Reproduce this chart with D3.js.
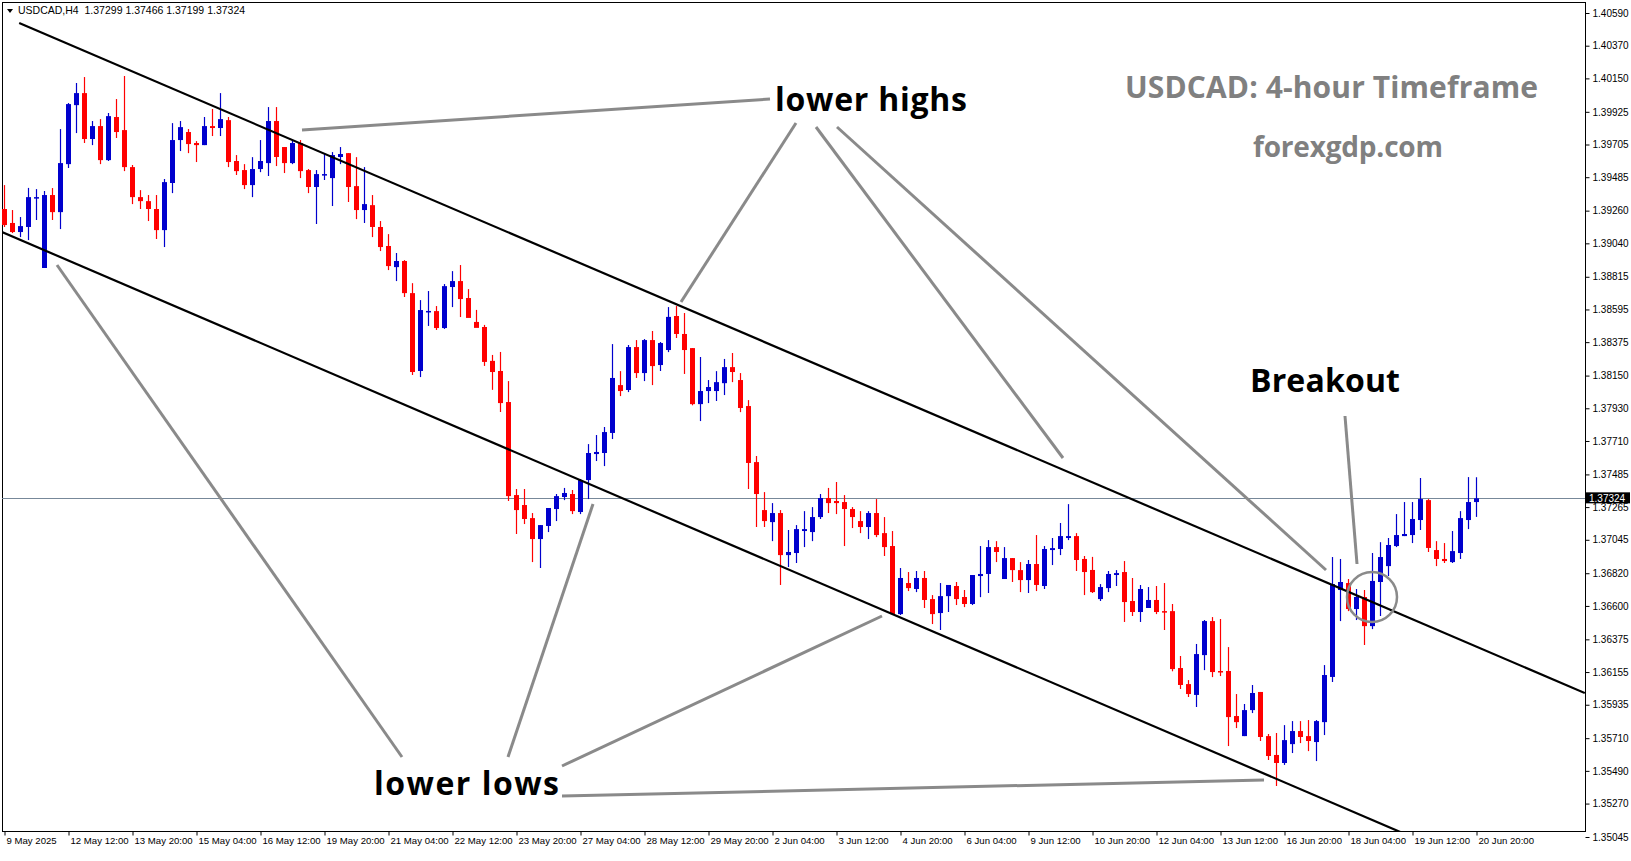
<!DOCTYPE html>
<html><head><meta charset="utf-8">
<script src="https://cdn.jsdelivr.net/npm/d3@7"></script>
<style>body{margin:0;background:#fff}svg{display:block}</style>
</head><body>
<svg id="c" width="1631" height="861"></svg>
<script>
const symbolHeader = "USDCAD,H4  1.37299 1.37466 1.37199 1.37324";
// [open, high, low, close] per H4 candle
const candles=[
[1.39271,1.39432,1.39150,1.39163],[1.39177,1.39264,1.39109,1.39116],[1.39116,1.39217,1.39082,1.39156],[1.39150,1.39413,1.39062,1.39351],
[1.39344,1.39405,1.39197,1.39351],[1.38874,1.39392,1.38874,1.39365],[1.39365,1.39412,1.39197,1.39250],[1.39250,1.39809,1.39136,1.39580],
[1.39573,1.39984,1.39547,1.39977],[1.39970,1.40119,1.39782,1.40051],[1.40051,1.40159,1.39715,1.39742],[1.39742,1.39863,1.39701,1.39829],
[1.39829,1.39876,1.39573,1.39600],[1.39600,1.39917,1.39594,1.39896],[1.39890,1.40011,1.39749,1.39789],[1.39802,1.40166,1.39526,1.39553],
[1.39553,1.39567,1.39304,1.39351],[1.39351,1.39398,1.39271,1.39324],[1.39324,1.39365,1.39190,1.39271],[1.39271,1.39365,1.39069,1.39129],
[1.39129,1.39473,1.39015,1.39452],[1.39446,1.39849,1.39378,1.39735],[1.39735,1.39863,1.39661,1.39822],[1.39789,1.39809,1.39647,1.39708],
[1.39715,1.39728,1.39587,1.39701],[1.39701,1.39890,1.39701,1.39829],[1.39829,1.39944,1.39762,1.39816],[1.39816,1.40051,1.39762,1.39876],
[1.39869,1.39890,1.39553,1.39587],[1.39594,1.39634,1.39500,1.39526],[1.39533,1.39573,1.39405,1.39432],[1.39432,1.39620,1.39351,1.39540],
[1.39540,1.39735,1.39519,1.39594],[1.39580,1.39957,1.39493,1.39863],[1.39863,1.39957,1.39560,1.39621],[1.39688,1.39688,1.39513,1.39580],
[1.39580,1.39735,1.39573,1.39715],[1.39715,1.39735,1.39479,1.39526],[1.39533,1.39540,1.39378,1.39419],[1.39419,1.39533,1.39170,1.39506],
[1.39500,1.39647,1.39466,1.39506],[1.39479,1.39654,1.39291,1.39634],[1.39621,1.39688,1.39573,1.39641],[1.39647,1.39647,1.39318,1.39419],
[1.39425,1.39620,1.39203,1.39264],[1.39264,1.39553,1.39177,1.39304],[1.39297,1.39365,1.39082,1.39150],[1.39150,1.39190,1.38988,1.39015],
[1.39022,1.39102,1.38860,1.38887],[1.38880,1.38975,1.38786,1.38921],[1.38921,1.38927,1.38679,1.38705],[1.38705,1.38772,1.38154,1.38174],
[1.38181,1.38658,1.38140,1.38591],[1.38584,1.38719,1.38484,1.38585],[1.38584,1.38618,1.38457,1.38470],[1.38470,1.38766,1.38464,1.38752],
[1.38746,1.38853,1.38611,1.38786],[1.38786,1.38894,1.38544,1.38665],[1.38672,1.38732,1.38551,1.38538],[1.38511,1.38592,1.38484,1.38471],
[1.38477,1.38491,1.38215,1.38242],[1.38249,1.38289,1.38054,1.38174],[1.38181,1.38309,1.37905,1.37965],[1.37972,1.38113,1.37306,1.37339],
[1.37346,1.37387,1.37084,1.37245],[1.37279,1.37387,1.37151,1.37185],[1.37191,1.37225,1.36895,1.37050],[1.37050,1.37144,1.36855,1.37144],
[1.37138,1.37259,1.37097,1.37259],[1.37252,1.37353,1.37171,1.37339],[1.37333,1.37394,1.37312,1.37360],[1.37353,1.37380,1.37218,1.37238],
[1.37232,1.37454,1.37218,1.37447],[1.37447,1.37689,1.37319,1.37629],[1.37622,1.37750,1.37575,1.37636],[1.37629,1.37804,1.37541,1.37770],
[1.37764,1.38362,1.37723,1.38134],[1.38086,1.38180,1.38012,1.38046],[1.38053,1.38356,1.38039,1.38342],[1.38342,1.38389,1.38134,1.38167],
[1.38167,1.38396,1.38113,1.38389],[1.38389,1.38450,1.38086,1.38214],[1.38221,1.38376,1.38181,1.38369],[1.38322,1.38611,1.38308,1.38545],
[1.38551,1.38618,1.38403,1.38430],[1.38430,1.38571,1.38161,1.38322],[1.38335,1.38335,1.37950,1.37958],[1.37958,1.38275,1.37844,1.38046],
[1.38046,1.38120,1.37965,1.38073],[1.38046,1.38180,1.37979,1.38106],[1.38099,1.38262,1.38019,1.38207],[1.38207,1.38302,1.38106,1.38174],
[1.38120,1.38167,1.37904,1.37932],[1.37945,1.37985,1.37387,1.37562],[1.37568,1.37609,1.37131,1.37353],[1.37245,1.37366,1.37131,1.37171],
[1.37164,1.37292,1.37036,1.37225],[1.37225,1.37245,1.36741,1.36942],[1.36942,1.37111,1.36862,1.36963],[1.36956,1.37144,1.36889,1.37117],
[1.37104,1.37238,1.36996,1.37117],[1.37097,1.37265,1.37036,1.37198],[1.37198,1.37353,1.37185,1.37326],[1.37326,1.37394,1.37225,1.37292],
[1.37306,1.37434,1.37218,1.37292],[1.37299,1.37346,1.37003,1.37252],[1.37252,1.37265,1.37124,1.37198],[1.37171,1.37238,1.37090,1.37131],
[1.37131,1.37238,1.37050,1.37225],[1.37225,1.37319,1.37063,1.37077],[1.37090,1.37198,1.36936,1.36996],[1.37003,1.37104,1.36540,1.36545],
[1.36545,1.36855,1.36539,1.36788],[1.36754,1.36828,1.36700,1.36720],[1.36714,1.36835,1.36693,1.36788],[1.36788,1.36835,1.36586,1.36640],
[1.36646,1.36673,1.36478,1.36545],[1.36552,1.36754,1.36438,1.36666],[1.36666,1.36741,1.36559,1.36741],[1.36734,1.36761,1.36606,1.36646],
[1.36660,1.36707,1.36592,1.36613],[1.36613,1.36808,1.36606,1.36808],[1.36801,1.37003,1.36659,1.36815],[1.36815,1.37043,1.36687,1.36996],
[1.36996,1.37036,1.36895,1.36963],[1.36781,1.36996,1.36781,1.36922],[1.36922,1.36922,1.36761,1.36841],[1.36841,1.36895,1.36693,1.36774],
[1.36774,1.36909,1.36687,1.36882],[1.36882,1.37077,1.36700,1.36741],[1.36734,1.37003,1.36714,1.36983],[1.36976,1.37057,1.36875,1.36989],
[1.36983,1.37158,1.36942,1.37070],[1.37057,1.37285,1.37043,1.37070],[1.37070,1.37090,1.36835,1.36909],[1.36916,1.36936,1.36673,1.36828],
[1.36842,1.36930,1.36687,1.36693],[1.36646,1.36747,1.36633,1.36727],[1.36720,1.36835,1.36693,1.36815],[1.36808,1.36841,1.36734,1.36821],
[1.36828,1.36902,1.36492,1.36626],[1.36633,1.36788,1.36532,1.36559],[1.36559,1.36741,1.36492,1.36714],[1.36586,1.36727,1.36586,1.36640],
[1.36640,1.36734,1.36545,1.36559],[1.36565,1.36754,1.36438,1.36559],[1.36565,1.36613,1.36160,1.36175],[1.36182,1.36263,1.36041,1.36068],
[1.36074,1.36101,1.35987,1.36007],[1.36001,1.36344,1.35920,1.36276],[1.36269,1.36505,1.36168,1.36498],[1.36498,1.36525,1.36121,1.36155],
[1.36162,1.36512,1.36128,1.36155],[1.36162,1.36323,1.35657,1.35852],[1.35859,1.36007,1.35778,1.35818],[1.35724,1.35940,1.35724,1.35899],
[1.35899,1.36068,1.35879,1.36014],[1.36021,1.36021,1.35691,1.35718],[1.35724,1.35738,1.35563,1.35590],[1.35597,1.35745,1.35388,1.35543],
[1.35543,1.35798,1.35530,1.35697],[1.35670,1.35825,1.35610,1.35758],[1.35758,1.35825,1.35677,1.35718],[1.35724,1.35832,1.35623,1.35691],
[1.35684,1.35832,1.35556,1.35825],[1.35818,1.36202,1.35731,1.36135],[1.36122,1.36929,1.36088,1.36747],[1.36707,1.36916,1.36498,1.36761],
[1.36754,1.36781,1.36565,1.36579],[1.36579,1.36714,1.36505,1.36660],[1.36660,1.36707,1.36337,1.36464],[1.36464,1.36956,1.36444,1.36768],
[1.36761,1.37029,1.36532,1.36929],[1.36868,1.37057,1.36801,1.37010],[1.37003,1.37218,1.36996,1.37077],[1.37070,1.37299,1.37070,1.37084],
[1.37077,1.37299,1.37023,1.37185],[1.37178,1.37461,1.37111,1.37319],[1.37312,1.37319,1.36963,1.36990],[1.36976,1.37036,1.36868,1.36916],
[1.36916,1.37023,1.36889,1.36902],[1.36895,1.37104,1.36889,1.36969],[1.36956,1.37238,1.36916,1.37191],[1.37178,1.37467,1.37117,1.37299],
[1.37299,1.37466,1.37199,1.37324]];
const xLabels=["9 May 2025","12 May 12:00","13 May 20:00","15 May 04:00","16 May 12:00","19 May 20:00","21 May 04:00","22 May 12:00","23 May 20:00","27 May 04:00","28 May 12:00","29 May 20:00","2 Jun 04:00","3 Jun 12:00","4 Jun 20:00","6 Jun 04:00","9 Jun 12:00","10 Jun 20:00","12 Jun 04:00","13 Jun 12:00","16 Jun 20:00","18 Jun 04:00","19 Jun 12:00","20 Jun 20:00"];
const yTicks=[1.40590,1.40370,1.40150,1.39925,1.39705,1.39485,1.39260,1.39040,1.38815,1.38595,1.38375,1.38150,1.37930,1.37710,1.37485,1.37265,1.37045,1.36820,1.36600,1.36375,1.36155,1.35935,1.35710,1.35490,1.35270,1.35045];
const lastPrice=1.37324;
// channel lines as [candle number, price]
const upperLine=[[2.9,1.40522],[198.6,1.36014]];
const lowerLine=[[0.75,1.39116],[185,1.34860]];

const svg=d3.select("#c");
const plotL=2,plotT=2,plotR=1585,plotB=831;
const x=d3.scaleLinear().domain([1,185]).range([4,1476]);
const y=d3.scaleLinear().domain([1.35045,1.40590]).range([837,13]);
const F="'Liberation Sans',Tahoma,Arial,sans-serif";

svg.append("defs").append("clipPath").attr("id","pc").append("rect")
 .attr("x",plotL).attr("y",plotT).attr("width",plotR-plotL).attr("height",plotB-plotT);
svg.append("rect").attr("x",plotL+0.5).attr("y",plotT+0.5).attr("width",plotR-plotL).attr("height",plotB-plotT)
 .attr("fill","#fff").attr("stroke","#000");

const g=svg.append("g").attr("clip-path","url(#pc)");
const lpY=Math.round(y(lastPrice))+0.5;
g.append("line").attr("x1",plotL).attr("x2",plotR).attr("y1",lpY).attr("y2",lpY).attr("stroke","#778899").attr("stroke-width",1);

const cg=g.append("g");
candles.forEach((d,i)=>{
  const [o,h,l,c]=d;
  const col=c>=o?"#0000cd":"#ff0000";
  const cx=Math.round(x(i+1))+0.5;
  cg.append("line").attr("x1",cx).attr("x2",cx).attr("y1",y(h)).attr("y2",y(l)).attr("stroke",col).attr("stroke-width",1.2);
  const t=y(Math.max(o,c)), b=y(Math.min(o,c));
  cg.append("rect").attr("x",cx-2.5).attr("y",t).attr("width",5).attr("height",Math.max(1.5,b-t)).attr("fill",col);
});

const line=d3.line().x(d=>x(d[0])).y(d=>y(d[1]));
[upperLine,lowerLine].forEach(l=>g.append("path").attr("d",line(l)).attr("stroke","#000").attr("stroke-width",2.2).attr("fill","none"));

const gray="#8a8a8a";
const ann=[[302,130,770,99],[796,123,681,302],[816,127,1063,458],[837,127,1326,570],
 [57,265,402,757],[593,504,508,757],[882,616,562,766],[562,796,1264,780],[1345,416,1357,564]];
ann.forEach(a=>g.append("line").attr("x1",a[0]).attr("y1",a[1]).attr("x2",a[2]).attr("y2",a[3]).attr("stroke",gray).attr("stroke-width",3));
g.append("circle").attr("cx",1372).attr("cy",597).attr("r",25).attr("fill","none").attr("stroke",gray).attr("stroke-width",2.5);

const TF="'Open Sans','Noto Sans',sans-serif";
svg.append("text").attr("x",775).attr("y",111).text("lower highs").attr("font-family",TF).attr("font-weight",700).attr("font-size",32).attr("textLength",192).attr("fill","#000");
svg.append("text").attr("x",374).attr("y",795).text("lower lows").attr("font-family",TF).attr("font-weight",700).attr("font-size",32).attr("textLength",185).attr("fill","#000");
svg.append("text").attr("x",1250).attr("y",392).text("Breakout").attr("font-family",TF).attr("font-weight",700).attr("font-size",32).attr("textLength",150).attr("fill","#000");
svg.append("text").attr("x",1125).attr("y",98).text("USDCAD: 4-hour Timeframe").attr("font-family",TF).attr("font-weight",700).attr("font-size",30).attr("textLength",413).attr("fill","#808080");
svg.append("text").attr("x",1253).attr("y",157).text("forexgdp.com").attr("font-family",TF).attr("font-weight",700).attr("font-size",28).attr("textLength",190).attr("fill","#808080");

svg.append("path").attr("d","M7,9 L13,9 L10,13 Z").attr("fill","#000");
svg.append("text").attr("x",18).attr("y",14).text(symbolHeader).attr("font-family",F).attr("font-size",10.5).attr("fill","#000").attr("xml:space","preserve").style("white-space","pre");

const ya=svg.append("g").attr("transform",`translate(${plotR+0.5},0)`)
 .call(d3.axisRight(y).tickValues(yTicks).tickFormat(d3.format(".5f")).tickSize(4).tickPadding(3));
ya.select(".domain").remove();
ya.selectAll("text").attr("font-family",F).attr("font-size",10).attr("fill","#000");
ya.selectAll("line").attr("stroke","#000");

const xa=svg.append("g").attr("transform",`translate(0,${plotB+0.5})`)
 .call(d3.axisBottom(x).tickValues(xLabels.map((d,i)=>1+8*i)).tickFormat((d,i)=>xLabels[i]).tickSize(4).tickPadding(2));
xa.select(".domain").remove();
xa.selectAll(".tick line").attr("transform","translate(0.5,0)").attr("stroke","#000");
xa.selectAll("text").attr("text-anchor","start").attr("dx",2).attr("font-family",F).attr("font-size",9.6).attr("fill","#000");

const ly=y(lastPrice);
svg.append("rect").attr("x",plotR+1).attr("y",ly-6).attr("width",44).attr("height",11).attr("fill","#000");
svg.append("text").attr("x",plotR+4).attr("y",ly+3.5).text(d3.format(".5f")(lastPrice)).attr("font-family",F).attr("font-size",10).attr("fill","#fff");
</script>
</body></html>
